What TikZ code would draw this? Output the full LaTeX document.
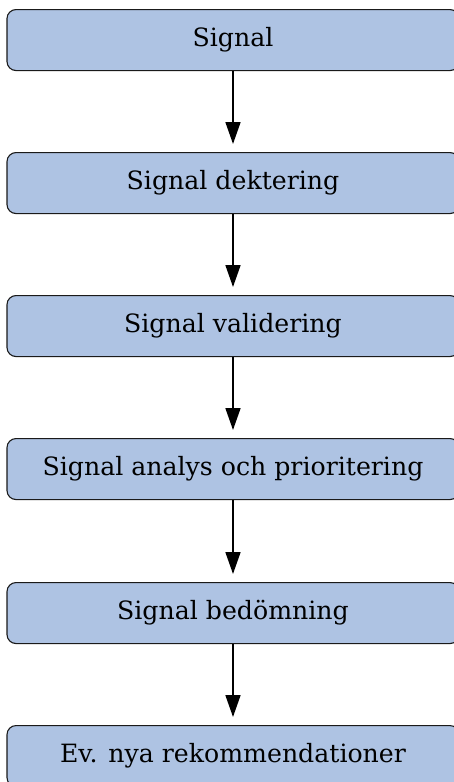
\documentclass[tikz,border=0pt]{standalone}
\usepackage{fontspec}
\setmainfont{DejaVu Serif}
\usetikzlibrary{arrows.meta}
\definecolor{boxfill}{HTML}{AEC3E3}
\definecolor{boxline}{HTML}{1A1A1A}
\tikzset{
  stepbox/.style={draw=boxline, line width=1.1pt, fill=boxfill, rounded corners=9pt,
    minimum width=452pt, minimum height=61pt, inner sep=0pt,
    font=\fontsize{25.2}{29}\selectfont, anchor=north},
  flowarrow/.style={line width=1.7pt, shorten >=8pt, -{Triangle[length=22pt,width=15pt]}}
}
\begin{document}
\begin{tikzpicture}[x=1pt,y=-1pt]
\useasboundingbox (0,0) rectangle (454,782);
\node[stepbox] (s1) at (233,9) {Signal};
\node[stepbox] (s2) at (233,152) {Signal dektering};
\node[stepbox] (s3) at (233,295) {Signal validering};
\node[stepbox] (s4) at (233,438) {Signal analys och prioritering};
\node[stepbox] (s5) at (233,582) {Signal bedömning};
\node[stepbox] (s6) at (233,725) {Ev. nya rekommendationer};
\draw[flowarrow] (s1) -- (s2);
\draw[flowarrow] (s2) -- (s3);
\draw[flowarrow] (s3) -- (s4);
\draw[flowarrow] (s4) -- (s5);
\draw[flowarrow] (s5) -- (s6);
\end{tikzpicture}
\end{document}
